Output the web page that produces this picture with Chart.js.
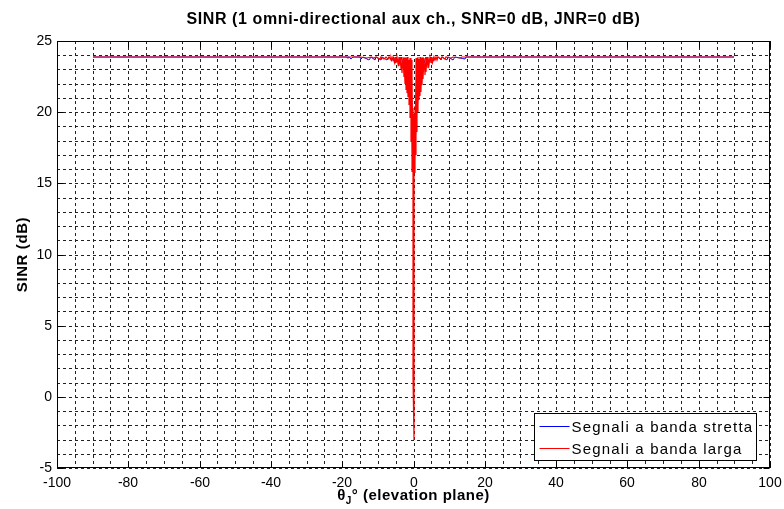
<!DOCTYPE html>
<html>
<head>
<meta charset="utf-8">
<script src="https://cdn.jsdelivr.net/npm/chart.js@4.4.1/dist/chart.umd.min.js"></script>
<style>
  html, body { margin: 0; padding: 0; background: #fff; }
  canvas { display: block; }
</style>
</head>
<body>
<canvas id="c" width="784" height="509"></canvas>
<script>
// ---- text ----
const chartTitle = 'SINR (1 omni-directional aux ch., SNR=0 dB, JNR=0 dB)';
const yTitle = 'SINR (dB)';
const xTitleParts = ['\u03B8', 'J', '\u00B0 (elevation plane)'];
const seriesLabels = ['Segnali a banda stretta', 'Segnali a banda larga'];

// ---- axis ticks (labelled) ----
const xTicks = [-100, -80, -60, -40, -20, 0, 20, 40, 60, 80, 100];
const yTicks = [-5, 0, 5, 10, 15, 20, 25];

// ---- narrowband signals: elevation angle (deg) / SINR (dB) ----
const thetaNarrow = [-90, -40, -18, -17.5, -17, -15, -14.6, -14.2, -12.4, -12, -10.8, -10.4, -9.2, -8.8,
  -7.4, -7, -5.5, -5, -4, -3.5, -2.5, -2, -1.5, -1, -0.6, -0.4, -0.2, 0, 0.2, 0.4, 0.6, 0.8, 1, 1.5,
  2, 2.5, 3.5, 4, 5, 5.5, 7, 7.6, 8, 9.4, 9.8, 11.2, 11.6, 14.4, 14.8, 18, 40, 90];
const sinrNarrow = [23.85, 23.85, 23.85, 23.75, 23.85, 23.85, 23.72, 23.85, 23.7, 23.85, 23.68, 23.85, 23.67, 23.85,
  23.65, 23.85, 23.6, 23.85, 23.4, 23.85, 23.0, 23.8, 22.4, 23.6, 21.5, 20.5, 18.0, 17.0, 18.0, 17.5, 19.0, 21.0, 23.6, 22.4,
  23.8, 23.0, 23.85, 23.4, 23.85, 23.6, 23.85, 23.65, 23.85, 23.68, 23.85, 23.7, 23.85, 23.74, 23.85, 23.85, 23.85, 23.85];

// ---- wideband signals: elevation angle (deg) / SINR (dB) ----
const thetaWide = [-90, -60, -30, -19, -18.5, -18, -15, -13, -12, -11, -10.5, -9.5, -9, -8.2, -7.8, -7.2, -6.8, -6.4,
  -6.2, -6.0, -5.8, -5.6, -5.4, -5.2, -5.0, -4.8, -4.6, -4.4, -4.2, -4.0, -3.8, -3.6, -3.4, -3.2, -3.0, -2.8, -2.6, -2.4,
  -2.3, -2.2, -2.1, -2.0, -1.9, -1.8, -1.7, -1.6, -1.5, -1.4, -1.3, -1.2, -1.1, -1.0, -0.9, -0.85, -0.8, -0.75, -0.7,
  -0.65, -0.6, -0.55, -0.5, -0.45, -0.4, -0.35, -0.3, -0.25, -0.2, -0.15, -0.1, -0.12, -0.1, 0, 0.1, 0.12, 0.1, 0.15,
  0.2, 0.25, 0.3, 0.35, 0.4, 0.45, 0.5, 0.55, 0.6, 0.65, 0.7, 0.75, 0.8, 0.85, 0.9, 0.95, 1.0, 1.05, 1.1, 1.2, 1.3, 1.4,
  1.5, 1.6, 1.7, 1.8, 1.9, 2.0, 2.1, 2.2, 2.3, 2.4, 2.6, 2.8, 3.0, 3.2, 3.4, 3.6, 3.8, 4.0, 4.2, 4.4, 4.6, 4.8, 5.0, 5.2,
  5.4, 5.6, 5.8, 6.0, 6.2, 6.6, 7.0, 7.6, 8.0, 8.8, 9.2, 10.5, 11, 13, 13.5, 17, 30, 60, 90];
const sinrWide = [23.85, 23.85, 23.85, 23.85, 23.8, 23.85, 23.85, 23.82, 23.85, 23.78, 23.85, 23.76, 23.85, 23.74, 23.85, 23.72, 23.85, 23.7,
  23.85, 23.66, 23.85, 23.6, 23.85, 23.52, 23.85, 23.45, 23.85, 23.36, 23.85, 23.22, 23.85, 23.0, 23.8, 22.75, 23.85, 22.45, 23.8, 22.0,
  23.85, 21.8, 23.8, 21.55, 23.85, 21.35, 23.75, 21.1, 23.85, 20.85, 23.7, 20.5, 23.8, 20.15, 23.7, 19.6, 23.8, 18.9, 23.75,
  17.9, 23.8, 17.0, 23.7, 16.3, 23.6, 15.8, 22.6, 15.6, 20.3, 15.6, 19.9, 15.6, 1.3, -3.0, 1.3, 15.6, 19.8, 15.6,
  19.9, 15.6, 19.9, 15.7, 20.0, 15.9, 20.4, 16.4, 22.5, 17.0, 23.4, 17.8, 23.8, 18.6, 23.75, 19.2, 23.8, 19.7, 23.75, 20.0, 23.85, 20.5,
  23.75, 20.85, 23.85, 21.15, 23.8, 21.4, 23.85, 21.65, 23.8, 21.9, 23.85, 22.35, 23.8, 22.6, 23.85, 22.85, 23.85, 23.1, 23.85, 23.3, 23.85, 23.42, 23.85, 23.5,
  23.85, 23.58, 23.85, 23.64, 23.85, 23.7, 23.85, 23.74, 23.85, 23.76, 23.85, 23.78, 23.85, 23.8, 23.85, 23.85, 23.85, 23.85, 23.85];

const toPoints = (xs, ys) => xs.map((v, i) => ({ x: v, y: ys[i] }));

const FONT = '"Liberation Sans", Arial, Helvetica, sans-serif';

// Solid box, inner major ticks, titles and the in-axes legend
const axesDecor = {
  id: 'axesDecor',
  afterDraw(chart) {
    const { ctx, chartArea: a, scales: { x, y } } = chart;
    const L = Math.round(a.left) + 0.5, R = Math.round(a.right) - 0.5;
    const T = Math.round(a.top) + 0.5, B = Math.round(a.bottom) - 0.5;
    ctx.save();
    ctx.strokeStyle = '#000';
    ctx.lineWidth = 1;
    ctx.setLineDash([]);
    ctx.strokeRect(L, T, R - L, B - T);

    const tl = 6;
    ctx.beginPath();
    xTicks.forEach(v => {
      const px = Math.round(x.getPixelForValue(v)) + 0.5;
      ctx.moveTo(px, B); ctx.lineTo(px, B - tl);
      ctx.moveTo(px, T); ctx.lineTo(px, T + tl);
    });
    yTicks.forEach(v => {
      const py = Math.round(y.getPixelForValue(v)) + 0.5;
      ctx.moveTo(L, py); ctx.lineTo(L + tl, py);
      ctx.moveTo(R, py); ctx.lineTo(R - tl, py);
    });
    ctx.stroke();

    const cx = (a.left + a.right) / 2;
    ctx.fillStyle = '#000';

    // chart title
    ctx.font = 'bold 16px ' + FONT;
    ctx.textAlign = 'center';
    ctx.textBaseline = 'alphabetic';
    ctx.letterSpacing = '0.6px';
    ctx.fillText(chartTitle, cx, 24);

    // y axis title
    ctx.save();
    ctx.translate(27, (a.top + a.bottom) / 2);
    ctx.rotate(-Math.PI / 2);
    ctx.font = 'bold 15px ' + FONT;
    ctx.letterSpacing = '0.6px';
    ctx.fillText(yTitle, 0, 0);
    ctx.restore();

    // x axis title with subscript
    ctx.letterSpacing = '0.5px';
    ctx.textAlign = 'left';
    const big = 'bold 15px ' + FONT, small = 'bold 10px ' + FONT;
    ctx.font = big; const w0 = ctx.measureText(xTitleParts[0]).width;
    ctx.font = small; const w1 = ctx.measureText(xTitleParts[1]).width;
    ctx.font = big; const w2 = ctx.measureText(xTitleParts[2]).width;
    let tx = cx - (w0 + w1 + w2) / 2;
    const base = 500;
    ctx.font = big; ctx.fillText(xTitleParts[0], tx, base); tx += w0;
    ctx.font = small; ctx.fillText(xTitleParts[1], tx, base + 4); tx += w1;
    ctx.font = big; ctx.fillText(xTitleParts[2], tx, base);

    // legend
    const lw = 222, lh = 47;
    const lx = Math.round(a.right - 14 - lw) + 0.5, ly = Math.round(a.bottom - 8 - lh) + 0.5;
    ctx.fillStyle = '#fff';
    ctx.fillRect(lx, ly, lw, lh);
    ctx.strokeStyle = '#000';
    ctx.strokeRect(lx, ly, lw, lh);
    ctx.font = '15px ' + FONT;
    ctx.letterSpacing = '1.2px';
    ctx.textBaseline = 'middle';
    [0, 1].forEach((di, k) => {
      const ds = chart.data.datasets[di];
      const yy = Math.round(ly + 12 + k * 22.5) + 0.5;
      ctx.strokeStyle = ds.borderColor;
      ctx.beginPath();
      ctx.moveTo(lx + 5, yy); ctx.lineTo(lx + 35, yy);
      ctx.stroke();
      ctx.fillStyle = '#000';
      ctx.fillText(ds.label, lx + 37, yy + 1);
    });
    ctx.restore();
  }
};

new Chart(document.getElementById('c'), {
  type: 'line',
  data: {
    datasets: [
      {
        label: seriesLabels[0],
        data: toPoints(thetaNarrow, sinrNarrow),
        borderColor: '#0000ff',
        borderWidth: 1,
        borderDash: [10, 0],
        pointRadius: 0,
        tension: 0,
        order: 1
      },
      {
        label: seriesLabels[1],
        data: toPoints(thetaWide, sinrWide),
        borderColor: '#ff0000',
        borderWidth: 1.2,
        borderDash: [10, 0],
        pointRadius: 0,
        tension: 0,
        order: 0
      }
    ]
  },
  options: {
    responsive: false,
    animation: false,
    events: [],
    layout: { padding: { top: 41, right: 14, left: 0, bottom: 0 } },
    plugins: {
      legend: { display: false },
      tooltip: { enabled: false },
      title: { display: false }
    },
    scales: {
      x: {
        type: 'linear',
        min: -100, max: 100,
        alignToPixels: true,
        afterFit(s) { s.height = 41; s.paddingLeft = 0; s.paddingRight = 0; },
        grid: { color: '#222', lineWidth: 1, drawTicks: false },
        border: { display: false, dash: [3, 3] },
        ticks: {
          stepSize: 5, autoSkip: false, maxRotation: 0, padding: 7,
          color: '#000',
          font: { family: FONT, size: 14 },
          callback: v => (v % 20 === 0 ? String(v) : '')
        }
      },
      y: {
        type: 'linear',
        min: -5, max: 25,
        alignToPixels: true,
        afterFit(s) { s.width = 57; s.paddingTop = 0; s.paddingBottom = 0; },
        grid: { color: '#222', lineWidth: 1, drawTicks: false },
        border: { display: false, dash: [3, 3] },
        ticks: {
          stepSize: 1, autoSkip: false, padding: 5,
          color: '#000',
          font: { family: FONT, size: 14 },
          callback: v => (v % 5 === 0 ? String(v) : '')
        }
      }
    }
  },
  plugins: [axesDecor]
});
</script>
</body>
</html>
